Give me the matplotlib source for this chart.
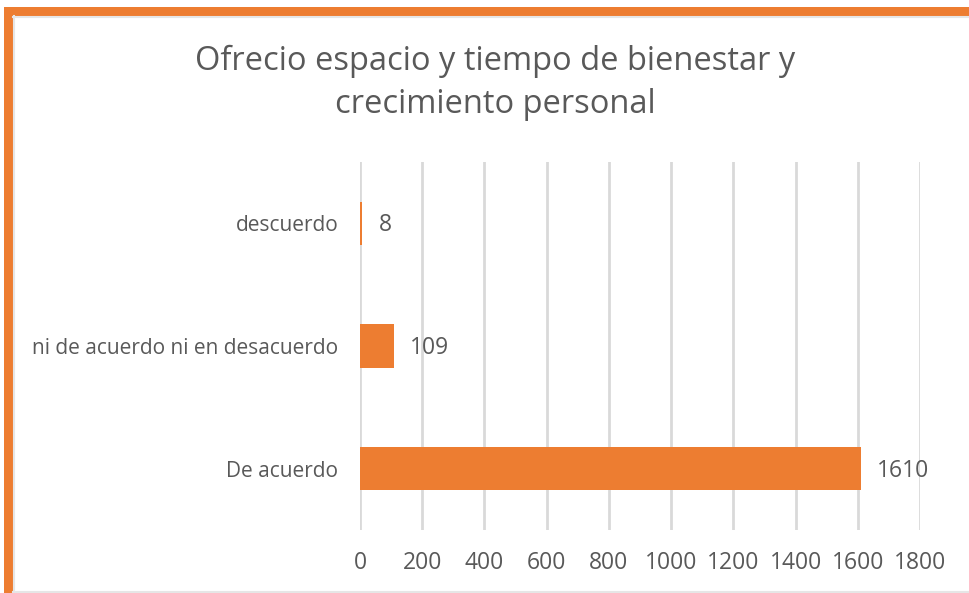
import matplotlib.pyplot as plt
from matplotlib.patches import Rectangle
from matplotlib.lines import Line2D

plt.rcParams['font.family'] = ['Open Sans', 'DejaVu Sans']

categories = ['De acuerdo', 'ni de acuerdo ni en desacuerdo', 'descuerdo']
values = [1610, 109, 8]
xticks = [0, 200, 400, 600, 800, 1000, 1200, 1400, 1600, 1800]
title = 'Ofrecio espacio y tiempo de bienestar y\ncrecimiento personal'

orange = '#ED7D31'
textc = '#595959'
gridc = '#D9D9D9'

fig = plt.figure(figsize=(9.69, 5.93), dpi=100)
ax = fig.add_axes([360 / 969, 1 - 530 / 593, 560 / 969, 368 / 593])

ypos = list(range(len(categories)))
ax.barh(ypos, values, height=0.355, color=orange, zorder=3)
ax.set_ylim(-0.5, 2.5)
ax.set_xlim(0, 1800)
ax.set_xticks(xticks)
ax.set_xticklabels([str(t) for t in xticks], fontsize=16.5)
ax.set_yticks(ypos)
ax.set_yticklabels(categories, fontsize=15)
ax.tick_params(axis='both', length=0, labelcolor=textc)
ax.tick_params(axis='x', pad=15)
ax.tick_params(axis='y', pad=15.5)
ax.grid(axis='x', color=gridc, linewidth=2, zorder=0)
for s in ax.spines.values():
    s.set_visible(False)

for y, v in zip(ypos, values):
    ax.annotate(str(v), (v, y), xytext=(16, -2), textcoords='offset pixels',
                va='center', ha='left', fontsize=16.5, color=textc)

fig.text(495 / 969, 1 - 83 / 593, title, ha='center', va='center',
         fontsize=23.5, color=textc, linespacing=1.4)

# frame
fig.add_artist(Rectangle((4 / 969, 0), 9 / 969, 1 - 7 / 593,
                         transform=fig.transFigure, color=orange, lw=0))
fig.add_artist(Rectangle((4 / 969, 1 - 16 / 593), 1, 9 / 593,
                         transform=fig.transFigure, color=orange, lw=0))
fig.add_artist(Line2D([13.5 / 969, 13.5 / 969], [0, 1 - 16 / 593],
                      transform=fig.transFigure, color='#E6E6E6', lw=1.5))
fig.add_artist(Line2D([13 / 969, 1], [1 - 16.5 / 593, 1 - 16.5 / 593],
                      transform=fig.transFigure, color='#E6E6E6', lw=1.5))
fig.add_artist(Line2D([13 / 969, 1], [1.5 / 593, 1.5 / 593],
                      transform=fig.transFigure, color='#E6E6E6', lw=1.5))

fig.savefig('out.png', dpi=100)
